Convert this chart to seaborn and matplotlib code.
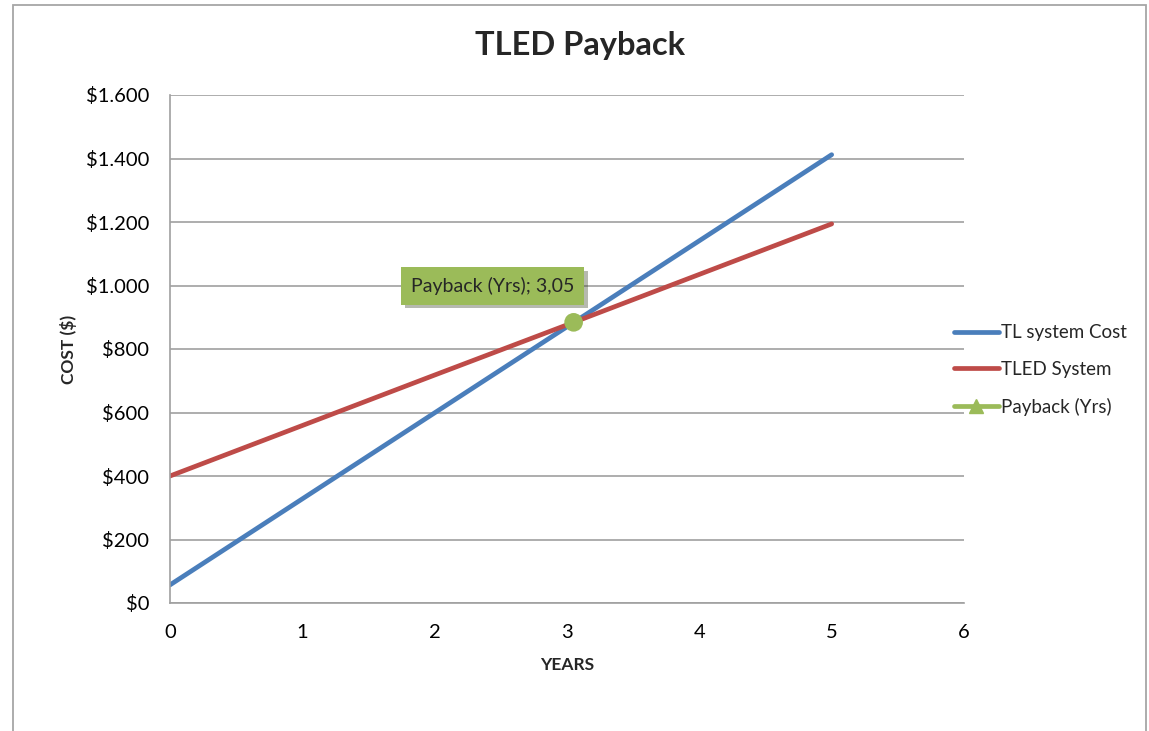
import matplotlib
matplotlib.use("Agg")
import matplotlib.pyplot as plt
import matplotlib.patches as mpatches
from matplotlib.lines import Line2D
from matplotlib.ticker import FuncFormatter, MultipleLocator
import matplotlib.patheffects as pe
import seaborn as sns
import pandas as pd

# Data
years = [0, 1, 2, 3, 4, 5]
tl_cost = [57, 328, 599, 870, 1141, 1412]
tled_cost = [400, 559, 718, 876, 1035, 1194]
payback_x = [3.05]
payback_y = [884]
payback_label = "Payback (Yrs); 3,05"
series_names = ["TL system Cost", "TLED System", "Payback (Yrs)"]

BLUE = "#4A7EBB"
RED = "#BE4B48"
GREEN = "#9BBB59"
GRID = "#A0A0A0"

sns.set_style("white")
plt.rcParams['font.family'] = ['Lato', 'DejaVu Sans']

fig = plt.figure(figsize=(11.49, 7.31), dpi=100)
ax = fig.add_axes([170/1149, 1-603/731, (964-170)/1149, (603-95)/731])

df = pd.DataFrame({
    "year": years * 2,
    "cost": tl_cost + tled_cost,
    "series": [series_names[0]] * len(years) + [series_names[1]] * len(years),
})
sns.lineplot(data=df, x="year", y="cost", hue="series",
             palette=[BLUE, RED], linewidth=3.4, ax=ax, legend=False,
             solid_capstyle="round")
sns.scatterplot(x=payback_x, y=payback_y, color=GREEN, s=180, ax=ax,
                edgecolor="none", zorder=5)

ax.set_xlim(0, 6)
ax.set_ylim(0, 1600)
ax.xaxis.set_major_locator(MultipleLocator(1))
ax.yaxis.set_major_locator(MultipleLocator(200))
ax.yaxis.set_major_formatter(FuncFormatter(lambda v, p: "$" + f"{int(v):,}".replace(",", ".")))
ax.grid(axis="y", color=GRID, linewidth=1.2)
ax.set_axisbelow(True)
for s in ["top", "right"]:
    ax.spines[s].set_visible(False)
for s in ["left", "bottom"]:
    ax.spines[s].set_color(GRID)
    ax.spines[s].set_linewidth(1.2)
ax.tick_params(axis="both", which="major", direction="out", length=7,
               color=GRID, width=1.2, labelsize=14.5, labelcolor="black", pad=8)
ax.set_xlabel("YEARS", fontsize=12.5, fontweight="bold", labelpad=12)
ax.set_ylabel("COST ($)", fontsize=12.5, fontweight="bold", labelpad=6)

fig.text(580/1149, 1-45/731, "TLED Payback", fontsize=23.5, fontweight="bold",
         ha="center", va="center")

t = ax.text(2.44, 998, payback_label, fontsize=14, ha="center", va="center",
            bbox=dict(boxstyle="square,pad=0.5", facecolor=GREEN, edgecolor="none"),
            zorder=6)
t.get_bbox_patch().set_path_effects([pe.SimplePatchShadow(offset=(2.5, -2.5), alpha=0.35), pe.Normal()])

handles = [
    Line2D([], [], color=BLUE, linewidth=3.4),
    Line2D([], [], color=RED, linewidth=3.4),
    Line2D([], [], color=GREEN, linewidth=3.4, marker="^", markersize=10),
]
fig.legend(handles, series_names, loc="center left",
           bbox_to_anchor=(937/1149, 1-370/731), frameon=False,
           fontsize=13.5, handlelength=2.4, handletextpad=0.1, labelspacing=1.05)

border = mpatches.Rectangle((13/1149, -0.05), (1146-13)/1149, 1.05-5/731,
                            transform=fig.transFigure, fill=False,
                            edgecolor="#A6A6A6", linewidth=1.3, clip_on=False)
fig.patches.append(border)

fig.savefig("out.png", dpi=100)
